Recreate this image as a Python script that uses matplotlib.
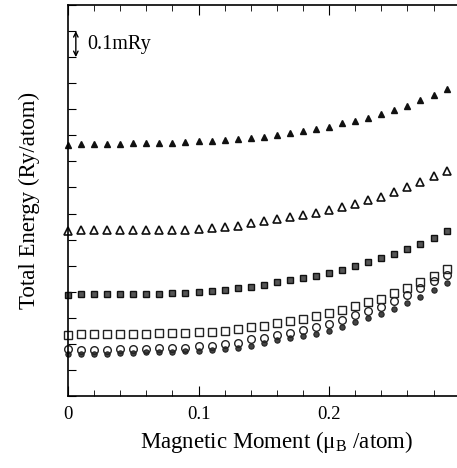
import matplotlib
matplotlib.use("Agg")
import matplotlib.pyplot as plt
import numpy as np

plt.rcParams['font.family'] = ['Liberation Serif', 'DejaVu Serif']
plt.rcParams['mathtext.fontset'] = 'custom'
plt.rcParams['mathtext.rm'] = 'Liberation Serif'

# magnetic moment (mu_B/atom)
moment = [0.00, 0.01, 0.02, 0.03, 0.04, 0.05, 0.06, 0.07, 0.08, 0.09,
          0.10, 0.11, 0.12, 0.13, 0.14, 0.15, 0.16, 0.17, 0.18, 0.19,
          0.20, 0.21, 0.22, 0.23, 0.24, 0.25, 0.26, 0.27, 0.28, 0.29]

# total energy, relative offset in mRy (axis has no numbers)
e_tri_filled = [0.962, 0.968, 0.968, 0.968, 0.968, 0.972, 0.972, 0.972, 0.972, 0.974,
                0.977, 0.980, 0.982, 0.987, 0.991, 0.995, 1.001, 1.008, 1.017, 1.024,
                1.033, 1.046, 1.056, 1.067, 1.081, 1.096, 1.114, 1.135, 1.154, 1.177]
e_tri_open = [0.632, 0.636, 0.636, 0.636, 0.636, 0.636, 0.636, 0.636, 0.638, 0.638,
              0.641, 0.645, 0.647, 0.653, 0.662, 0.673, 0.680, 0.687, 0.696, 0.703,
              0.713, 0.724, 0.738, 0.751, 0.764, 0.783, 0.801, 0.822, 0.843, 0.865]
e_sq_hatched = [0.388, 0.391, 0.391, 0.391, 0.391, 0.391, 0.391, 0.391, 0.395, 0.397,
                0.400, 0.404, 0.408, 0.414, 0.420, 0.427, 0.436, 0.444, 0.453, 0.462,
                0.472, 0.485, 0.499, 0.513, 0.528, 0.544, 0.563, 0.582, 0.607, 0.632]
e_sq_open = [0.235, 0.237, 0.237, 0.238, 0.238, 0.238, 0.238, 0.241, 0.241, 0.241,
             0.245, 0.247, 0.251, 0.257, 0.265, 0.270, 0.280, 0.288, 0.297, 0.307,
             0.318, 0.331, 0.346, 0.360, 0.374, 0.395, 0.414, 0.438, 0.462, 0.487]
e_circ_open = [0.180, 0.177, 0.177, 0.177, 0.180, 0.180, 0.180, 0.183, 0.183, 0.186,
               0.190, 0.193, 0.199, 0.205, 0.217, 0.224, 0.233, 0.243, 0.254, 0.264,
               0.277, 0.292, 0.309, 0.326, 0.343, 0.363, 0.388, 0.414, 0.440, 0.465]
e_circ_filled = [0.162, 0.163, 0.163, 0.163, 0.165, 0.165, 0.167, 0.167, 0.169, 0.171,
                 0.173, 0.177, 0.181, 0.185, 0.192, 0.205, 0.215, 0.222, 0.231, 0.238,
                 0.251, 0.264, 0.283, 0.299, 0.315, 0.335, 0.357, 0.380, 0.405, 0.433]

fig = plt.figure(figsize=(4.57, 4.68), dpi=100)
ax = fig.add_axes([68 / 457, 72 / 468, 389 / 457, 391 / 468])

ax.plot(moment, e_circ_filled, 'o', ms=3.8, mfc='#444444', mec='#222222', mew=0.8, clip_on=False)
ax.plot(moment, e_circ_open, 'o', ms=5.5, mfc='none', mec='#222222', mew=1.0, clip_on=False)
ax.plot(moment, e_sq_open, 's', ms=5.8, mfc='none', mec='#222222', mew=1.0, clip_on=False)
ax.plot(moment, e_sq_hatched, 's', ms=4.8, mfc='#555555', mec='#111111', mew=1.0, clip_on=False)
ax.plot(moment, e_tri_open, '^', ms=5.5, mfc='none', mec='#111111', mew=1.2, clip_on=False)
ax.plot(moment, e_tri_filled, '^', ms=4.3, mfc='#111111', mec='#111111', clip_on=False)

ax.set_xlim(0, 0.298)
ax.set_ylim(0, 1.5)
ax.set_xticks([0, 0.1, 0.2])
ax.set_xticklabels(['0', '0.1', '0.2'], fontsize=13.5)
ax.set_xticks(np.arange(0, 0.30, 0.02), minor=True)
ax.set_yticks(np.arange(0, 1.51, 0.1))
ax.set_yticklabels([])
ax.tick_params(axis='x', which='major', direction='in', length=7, top=True, pad=7)
ax.tick_params(axis='x', which='minor', direction='in', length=4, top=True)
ax.tick_params(axis='y', which='major', direction='in', length=6)
ax.spines['right'].set_visible(False)
for s in ['left', 'bottom', 'top']:
    ax.spines[s].set_linewidth(1.2)

ax.set_xlabel('Magnetic Moment (μ$_{\\rm B}$ /atom)', fontsize=16.5)
ax.xaxis.set_label_coords(0.537, -0.085)
ax.set_ylabel('Total Energy (Ry/atom)', fontsize=16.5, labelpad=17)

# 0.1 mRy scale marker
ax.annotate('', xy=(0.006, 1.4), xytext=(0.006, 1.3),
            arrowprops=dict(arrowstyle='<->', color='black', lw=1.0, shrinkA=0, shrinkB=0,
                            mutation_scale=8))
ax.text(0.015, 1.35, '0.1mRy', fontsize=14.5, va='center', ha='left')

fig.savefig('out.png', dpi=100)
